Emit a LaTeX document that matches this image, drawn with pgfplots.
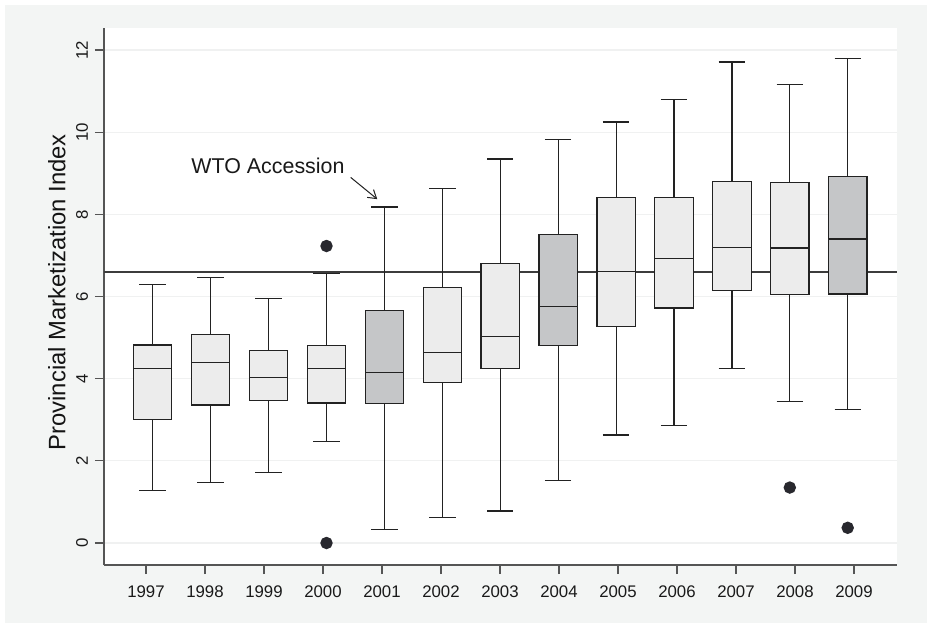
\documentclass[border=0pt]{standalone}
\usepackage{pgfplots}
\pgfplotsset{compat=1.18}
\usepgfplotslibrary{statistics}
\usetikzlibrary{arrows.meta}
\usepackage{fontspec}
\setmainfont{Liberation Sans}
\definecolor{outerbg}{RGB}{243,245,244}
\definecolor{boxlight}{RGB}{236,236,236}
\definecolor{boxdark}{RGB}{197,198,200}
\definecolor{boxedge}{RGB}{34,34,34}
\definecolor{axisc}{RGB}{85,85,85}
\definecolor{gridc}{RGB}{240,241,241}
\definecolor{hlinec}{RGB}{60,60,60}
\definecolor{dotc}{RGB}{40,40,46}
\begin{document}
\begin{tikzpicture}
\useasboundingbox (-52pt,-29pt) rectangle (411.5pt,282.5pt);
\fill[white] (-52pt,-29pt) rectangle (411.5pt,282.5pt);
\fill[outerbg] (-49.5pt,-29pt) rectangle (411.5pt,280pt);
\begin{axis}[
  at={(0,0)}, anchor=south west,
  scale only axis, width=396.5pt, height=268.5pt,
  xmin=104, xmax=897, ymin=-0.5355, ymax=12.537,
  axis background/.style={fill=white},
  axis x line*=bottom, axis y line*=left,
  axis line style={draw=axisc, line width=0.75pt},
  tick align=outside, tick style={draw=axisc, line width=0.6pt},
  major tick length=4.5pt,
  xtick={146,205,264,323,382,441,500,559,618,677,736,795,854},
  xticklabels={1997,1998,1999,2000,2001,2002,2003,2004,2005,2006,2007,2008,2009},
  ytick={0,2,4,6,8,10,12},
  ymajorgrids, major grid style={draw=gridc, line width=0.6pt},
  /pgf/number format/assume math mode=true,
  ticklabel style={font=\fontsize{8.4}{10}\selectfont, text=black!90},
  xticklabel style={yshift=-2.5pt},
  yticklabel style={rotate=90, anchor=south},
  ylabel={Provincial Marketization Index},
  ylabel style={at={(axis description cs:-0.0593,0.508)}, anchor=center, font=\fontsize{11.9}{13}\selectfont, text=black!92},
  clip=false,
  boxplot/draw direction=y,
  boxplot/box extend=38.4,
  boxplot/whisker extend=26.4,
]
\addplot[draw=hlinec, line width=0.8pt] coordinates {(104,6.6) (897,6.6)};

\pgfplotsset{
  lightbox/.style={draw=boxedge, line width=0.6pt, fill=boxlight, solid, mark=*, mark size=2.8pt, mark options={draw=dotc, fill=dotc}},
  darkbox/.style={draw=boxedge, line width=0.6pt, fill=boxdark, solid, mark=*, mark size=2.8pt, mark options={draw=dotc, fill=dotc}},
}
% 1997
\addplot[lightbox, boxplot prepared={draw position=152.7, lower whisker=1.28, lower quartile=3.01, median=4.25, upper quartile=4.82, upper whisker=6.29}] coordinates {};
% 1998
\addplot[lightbox, boxplot prepared={draw position=210.6, lower whisker=1.48, lower quartile=3.36, median=4.40, upper quartile=5.08, upper whisker=6.47}] coordinates {};
% 1999
\addplot[lightbox, boxplot prepared={draw position=268.5, lower whisker=1.71, lower quartile=3.46, median=4.02, upper quartile=4.68, upper whisker=5.96}] coordinates {};
% 2000
\addplot[lightbox, boxplot prepared={draw position=326.5, lower whisker=2.48, lower quartile=3.41, median=4.24, upper quartile=4.80, upper whisker=6.56}] table[row sep=\\, y index=0] {7.23\\ 0.0\\};
% 2001
\addplot[darkbox, boxplot prepared={draw position=384.4, lower whisker=0.32, lower quartile=3.39, median=4.15, upper quartile=5.66, upper whisker=8.18}] coordinates {};
% 2002
\addplot[lightbox, boxplot prepared={draw position=442.3, lower whisker=0.62, lower quartile=3.90, median=4.64, upper quartile=6.22, upper whisker=8.63}] coordinates {};
% 2003
\addplot[lightbox, boxplot prepared={draw position=500.2, lower whisker=0.78, lower quartile=4.24, median=5.03, upper quartile=6.80, upper whisker=9.35}] coordinates {};
% 2004
\addplot[darkbox, boxplot prepared={draw position=558.1, lower whisker=1.53, lower quartile=4.80, median=5.76, upper quartile=7.51, upper whisker=9.82}] coordinates {};
% 2005
\addplot[lightbox, boxplot prepared={draw position=616.1, lower whisker=2.63, lower quartile=5.27, median=6.60, upper quartile=8.41, upper whisker=10.25}] coordinates {};
% 2006
\addplot[lightbox, boxplot prepared={draw position=674.0, lower whisker=2.87, lower quartile=5.72, median=6.93, upper quartile=8.42, upper whisker=10.79}] coordinates {};
% 2007
\addplot[lightbox, boxplot prepared={draw position=731.9, lower whisker=4.25, lower quartile=6.15, median=7.20, upper quartile=8.81, upper whisker=11.71}] coordinates {};
% 2008
\addplot[lightbox, boxplot prepared={draw position=789.8, lower whisker=3.45, lower quartile=6.04, median=7.18, upper quartile=8.77, upper whisker=11.16}] table[row sep=\\, y index=0] {1.35\\};
% 2009
\addplot[darkbox, boxplot prepared={draw position=847.7, lower whisker=3.25, lower quartile=6.06, median=7.40, upper quartile=8.92, upper whisker=11.80}] table[row sep=\\, y index=0] {0.37\\};

\node[font=\fontsize{10.7}{12}\selectfont, text=black!90, inner sep=0pt] at (axis cs:268,9.18) {WTO Accession};
\draw[-{Straight Barb[length=4pt,width=5pt]}, line width=0.5pt, boxedge] (axis cs:350.7,8.90) -- (axis cs:377.3,8.37);
\end{axis}
\end{tikzpicture}
\end{document}
